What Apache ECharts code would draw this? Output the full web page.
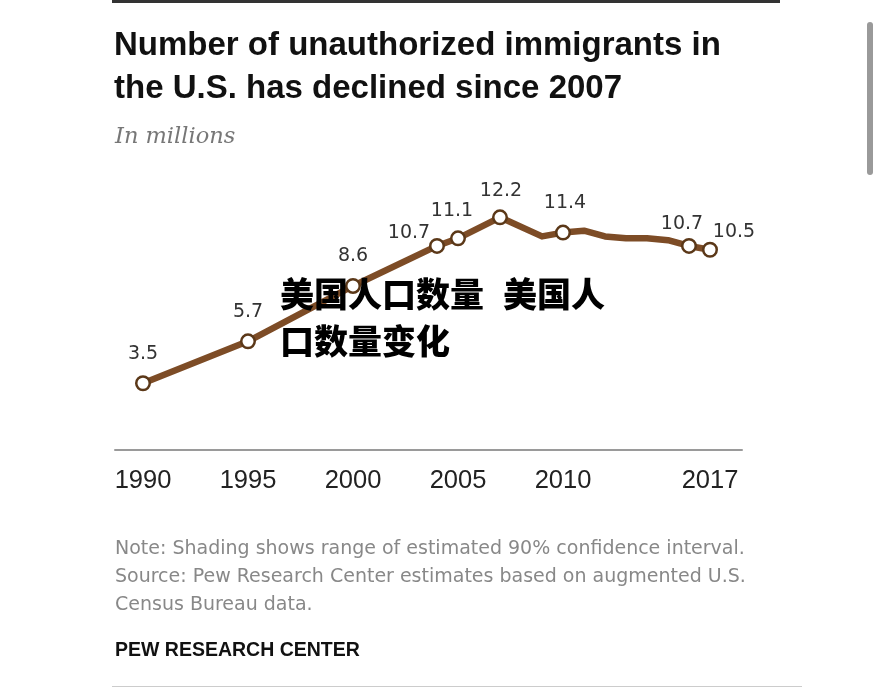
<!DOCTYPE html>
<html>
<head>
<meta charset="utf-8">
<script src="https://cdn.jsdelivr.net/npm/echarts@6/dist/echarts.min.js"></script>
<style>
html,body{margin:0;padding:0;background:#fff;}
#chart{width:881px;height:689px;}
</style>
</head>
<body>
<div id="chart"></div>
<script>
// ---- data ----
const years   = [1990, 1995, 2000, 2004, 2005, 2007, 2009, 2010, 2011, 2012, 2013, 2014, 2015, 2016, 2017];
const values  = [3.5, 5.7, 8.6, 10.7, 11.1, 12.2, 11.2, 11.4, 11.5, 11.2, 11.1, 11.1, 11.0, 10.7, 10.5];
const ciLow   = [3.2, 5.4, 8.3, 10.4, 10.8, 11.9, 10.9, 11.1, 11.2, 10.9, 10.8, 10.8, 10.7, 10.4, 10.2];
const ciHigh  = [3.8, 6.0, 8.9, 11.0, 11.4, 12.5, 11.5, 11.7, 11.8, 11.5, 11.4, 11.4, 11.3, 11.0, 10.8];
const labeledYears = [1990, 1995, 2000, 2004, 2005, 2007, 2010, 2016, 2017];
const tickYears = [1990, 1995, 2000, 2005, 2010, 2017];

const titleLines = ['Number of unauthorized immigrants in', 'the U.S. has declined since 2007'];
const subtitle = 'In millions';
const noteLines = [
  'Note: Shading shows range of estimated 90% confidence interval.',
  'Source: Pew Research Center estimates based on augmented U.S.',
  'Census Bureau data.'
];
const credit = 'PEW RESEARCH CENTER';
const overlayParts = ['美国人口数量', '美国人', '口数量变化'];

// ---- label placement (style) ----
const labelOffsets = {
  1990: [0, -29], 1995: [0, -29], 2000: [0, -30], 2004: [-28, -13],
  2005: [-6, -27], 2007: [1, -26], 2010: [2, -30], 2016: [-7, -22], 2017: [24, -18]
};

const lineData = years.map((y, i) => {
  const isLab = labeledYears.indexOf(y) >= 0;
  return {
    value: [y, values[i]],
    symbolSize: isLab ? 13.5 : 0,
    label: isLab ? { show: true, offset: labelOffsets[y] } : { show: false }
  };
});
const lowData = years.map((y, i) => [y, ciLow[i]]);
const bandData = years.map((y, i) => [y, +(ciHigh[i] - ciLow[i]).toFixed(2)]);

const chart = echarts.init(document.getElementById('chart'), null, { renderer: 'canvas' });

const sans = '"Liberation Sans", Arial, sans-serif';
const dejavu = '"DejaVu Sans", sans-serif';
const cjk = '900 34px "Noto Sans CJK SC", sans-serif';

const graphics = [
  { type: 'rect', shape: { x: 112, y: 0, width: 668, height: 3 }, style: { fill: '#333' } },
  { type: 'rect', shape: { x: 112, y: 686, width: 690, height: 1 }, style: { fill: '#ccc' } },
  { type: 'rect', shape: { x: 867, y: 22, width: 6, height: 153, r: 3 }, style: { fill: '#9a9a9a' } },
  { type: 'text', x: 114, y: 46, style: { text: titleLines[0], font: 'bold 33px ' + sans, fill: '#111', verticalAlign: 'middle' } },
  { type: 'text', x: 114, y: 89, style: { text: titleLines[1], font: 'bold 33px ' + sans, fill: '#111', verticalAlign: 'middle' } },
  { type: 'text', x: 115, y: 137, style: { text: subtitle, font: 'italic 22.5px "DejaVu Serif", "Liberation Serif", serif', fill: '#777', verticalAlign: 'middle' } },
  { type: 'text', x: 115, y: 549, style: { text: noteLines[0], font: '19px ' + dejavu, fill: '#888', verticalAlign: 'middle' } },
  { type: 'text', x: 115, y: 577, style: { text: noteLines[1], font: '19px ' + dejavu, fill: '#888', verticalAlign: 'middle' } },
  { type: 'text', x: 115, y: 605, style: { text: noteLines[2], font: '19px ' + dejavu, fill: '#888', verticalAlign: 'middle' } },
  { type: 'text', x: 115, y: 651, style: { text: credit, font: 'bold 19.5px ' + sans, fill: '#111', verticalAlign: 'middle' } },
  { type: 'text', x: 280, y: 294, z: 100, style: { text: overlayParts[0], font: cjk, fill: '#000', verticalAlign: 'middle' } },
  { type: 'text', x: 503, y: 294, z: 100, style: { text: overlayParts[1], font: cjk, fill: '#000', verticalAlign: 'middle' } },
  { type: 'text', x: 280, y: 341, z: 100, style: { text: overlayParts[2], font: cjk, fill: '#000', verticalAlign: 'middle' } }
];

chart.setOption({
  animation: false,
  backgroundColor: '#fff',
  grid: { left: 115, right: 139, top: 183, bottom: 239 },
  xAxis: {
    type: 'value',
    min: 1988.667,
    max: 2018.524,
    axisLine: { show: true, lineStyle: { color: '#9a9a9a', width: 2 } },
    axisTick: { show: false },
    splitLine: { show: false },
    axisLabel: {
      customValues: tickYears,
      margin: 18,
      fontSize: 25.5,
      fontFamily: sans,
      color: '#222',
      formatter: v => String(v)
    }
  },
  yAxis: {
    type: 'value', min: 0, max: 14, show: false,
    splitLine: { show: false }
  },
  series: [
    {
      type: 'line', data: lowData, stack: 'ci', symbol: 'none',
      lineStyle: { opacity: 0 }, silent: true, z: 1
    },
    {
      type: 'line', data: bandData, stack: 'ci', symbol: 'none',
      lineStyle: { opacity: 0 }, areaStyle: { color: '#ebdfd0', opacity: 1 }, silent: true, z: 1
    },
    {
      type: 'line', data: lineData, z: 5,
      symbol: 'circle',
      lineStyle: { color: '#7d4c26', width: 6.5, join: 'round', cap: 'round' },
      itemStyle: { color: '#fff', borderColor: '#5b3818', borderWidth: 2.5 },
      label: {
        position: 'inside',
        fontSize: 19,
        fontFamily: dejavu,
        color: '#333',
        formatter: p => String(p.value[1])
      }
    }
  ],
  graphic: { elements: graphics }
});
</script>
</body>
</html>
